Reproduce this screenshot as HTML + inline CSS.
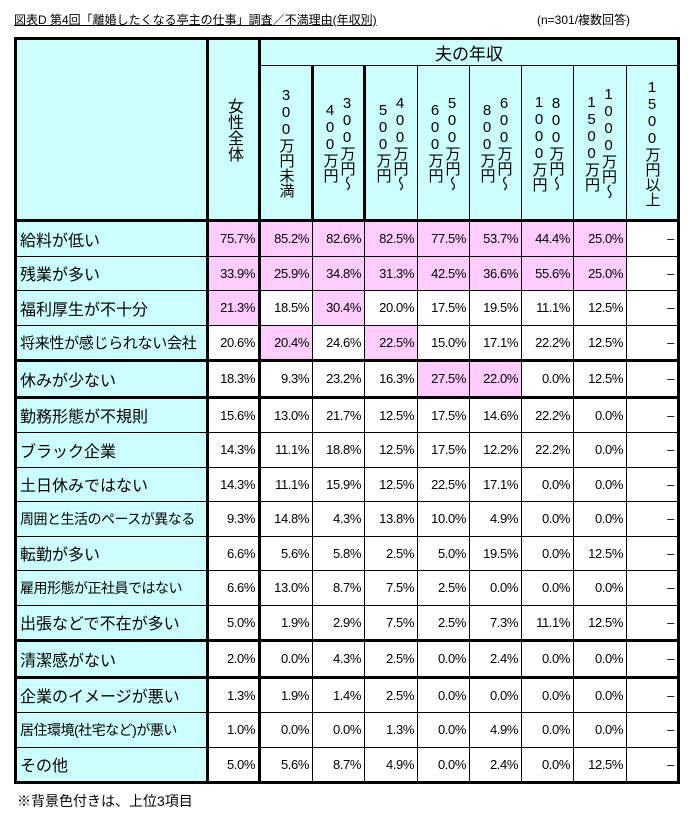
<!DOCTYPE html>
<html><head><meta charset="utf-8"><style>
body{margin:0;width:693px;height:821px;background:#fff;font-family:"Liberation Sans","Noto Sans CJK JP",sans-serif;position:relative;overflow:hidden}
.title{position:absolute;left:14px;top:11px;font-size:12px;text-decoration:underline;white-space:nowrap}
.n{position:absolute;left:537px;top:11px;font-size:12px;white-space:nowrap}
.foot{position:absolute;left:17px;top:791px;font-size:14px}
table{position:absolute;left:14px;top:37px;border-collapse:collapse;table-layout:fixed;border:3px solid #000;width:665px}
td{border:1px solid #000;padding:0;font-size:13px;text-align:right;padding-right:3px;height:33.5px;letter-spacing:-0.4px;overflow:hidden}
td.l{background:#ccffff;text-align:left;font-size:16px;padding-left:3px;padding-right:0;letter-spacing:0;white-space:nowrap}
td.m{font-size:15px;letter-spacing:-0.3px}
td.s{font-size:14px;letter-spacing:-0.5px}
td:nth-child(1),td:nth-child(2){border-right:3px solid #000}
tr.t td{border-top:3px solid #000}
.p{background:#ffccff}
.h td{background:#ccffff;text-align:center;padding:0;letter-spacing:0}
.v{writing-mode:vertical-rl;text-orientation:upright;font-size:15px;line-height:17px;margin:0 auto;height:150px;text-align:center;letter-spacing:0}
</style></head><body>
<div class="title">図表D 第4回「離婚したくなる亭主の仕事」調査／不満理由(年収別)</div>
<div class="n">(n=301/複数回答)</div>
<table>
<colgroup><col style="width:192px"><col style="width:52px"><col style="width:53px"><col style="width:52px"><col style="width:53px"><col style="width:52px"><col style="width:52px"><col style="width:52px"><col style="width:53px"><col style="width:52px"></colgroup>
<tr class="h"><td rowspan="2" style="border-bottom:3px solid #000"></td><td rowspan="2" style="border-bottom:3px solid #000"><div class="v" style="font-size:16px;line-height:19px">女性全体</div></td><td colspan="8" style="height:23px;font-size:17px;border-right:3px solid #000">夫の年収</td></tr>
<tr class="h" style="height:155px"><td style="border-bottom:3px solid #000"><div class="v">300万円未満</div></td>
<td style="border-bottom:3px solid #000"><div class="v">300万円～<br>400万円</div></td>
<td style="border-bottom:3px solid #000"><div class="v">400万円～<br>500万円</div></td>
<td style="border-bottom:3px solid #000"><div class="v">500万円～<br>600万円</div></td>
<td style="border-bottom:3px solid #000"><div class="v">600万円～<br>800万円</div></td>
<td style="border-bottom:3px solid #000"><div class="v">800万円～<br>1000万円</div></td>
<td style="border-bottom:3px solid #000"><div class="v">1000万円～<br>1500万円</div></td>
<td style="border-bottom:3px solid #000"><div class="v">1500万円以上</div></td></tr>
<tr class="t"><td class="l">給料が低い</td><td class="p">75.7%</td><td class="p">85.2%</td><td class="p">82.6%</td><td class="p">82.5%</td><td class="p">77.5%</td><td class="p">53.7%</td><td class="p">44.4%</td><td class="p">25.0%</td><td>–</td></tr>
<tr><td class="l">残業が多い</td><td class="p">33.9%</td><td class="p">25.9%</td><td class="p">34.8%</td><td class="p">31.3%</td><td class="p">42.5%</td><td class="p">36.6%</td><td class="p">55.6%</td><td class="p">25.0%</td><td>–</td></tr>
<tr><td class="l">福利厚生が不十分</td><td class="p">21.3%</td><td>18.5%</td><td class="p">30.4%</td><td>20.0%</td><td>17.5%</td><td>19.5%</td><td>11.1%</td><td>12.5%</td><td>–</td></tr>
<tr><td class="l m">将来性が感じられない会社</td><td>20.6%</td><td class="p">20.4%</td><td>24.6%</td><td class="p">22.5%</td><td>15.0%</td><td>17.1%</td><td>22.2%</td><td>12.5%</td><td>–</td></tr>
<tr class="t"><td class="l">休みが少ない</td><td>18.3%</td><td>9.3%</td><td>23.2%</td><td>16.3%</td><td class="p">27.5%</td><td class="p">22.0%</td><td>0.0%</td><td>12.5%</td><td>–</td></tr>
<tr class="t"><td class="l">勤務形態が不規則</td><td>15.6%</td><td>13.0%</td><td>21.7%</td><td>12.5%</td><td>17.5%</td><td>14.6%</td><td>22.2%</td><td>0.0%</td><td>–</td></tr>
<tr><td class="l">ブラック企業</td><td>14.3%</td><td>11.1%</td><td>18.8%</td><td>12.5%</td><td>17.5%</td><td>12.2%</td><td>22.2%</td><td>0.0%</td><td>–</td></tr>
<tr><td class="l">土日休みではない</td><td>14.3%</td><td>11.1%</td><td>15.9%</td><td>12.5%</td><td>22.5%</td><td>17.1%</td><td>0.0%</td><td>0.0%</td><td>–</td></tr>
<tr><td class="l s">周囲と生活のペースが異なる</td><td>9.3%</td><td>14.8%</td><td>4.3%</td><td>13.8%</td><td>10.0%</td><td>4.9%</td><td>0.0%</td><td>0.0%</td><td>–</td></tr>
<tr><td class="l">転勤が多い</td><td>6.6%</td><td>5.6%</td><td>5.8%</td><td>2.5%</td><td>5.0%</td><td>19.5%</td><td>0.0%</td><td>12.5%</td><td>–</td></tr>
<tr><td class="l s">雇用形態が正社員ではない</td><td>6.6%</td><td>13.0%</td><td>8.7%</td><td>7.5%</td><td>2.5%</td><td>0.0%</td><td>0.0%</td><td>0.0%</td><td>–</td></tr>
<tr><td class="l">出張などで不在が多い</td><td>5.0%</td><td>1.9%</td><td>2.9%</td><td>7.5%</td><td>2.5%</td><td>7.3%</td><td>11.1%</td><td>12.5%</td><td>–</td></tr>
<tr class="t"><td class="l">清潔感がない</td><td>2.0%</td><td>0.0%</td><td>4.3%</td><td>2.5%</td><td>0.0%</td><td>2.4%</td><td>0.0%</td><td>0.0%</td><td>–</td></tr>
<tr class="t"><td class="l">企業のイメージが悪い</td><td>1.3%</td><td>1.9%</td><td>1.4%</td><td>2.5%</td><td>0.0%</td><td>0.0%</td><td>0.0%</td><td>0.0%</td><td>–</td></tr>
<tr><td class="l s">居住環境(社宅など)が悪い</td><td>1.0%</td><td>0.0%</td><td>0.0%</td><td>1.3%</td><td>0.0%</td><td>4.9%</td><td>0.0%</td><td>0.0%</td><td>–</td></tr>
<tr><td class="l">その他</td><td>5.0%</td><td>5.6%</td><td>8.7%</td><td>4.9%</td><td>0.0%</td><td>2.4%</td><td>0.0%</td><td>12.5%</td><td>–</td></tr>
</table>
<div class="foot">※背景色付きは、上位3項目</div>
</body></html>
